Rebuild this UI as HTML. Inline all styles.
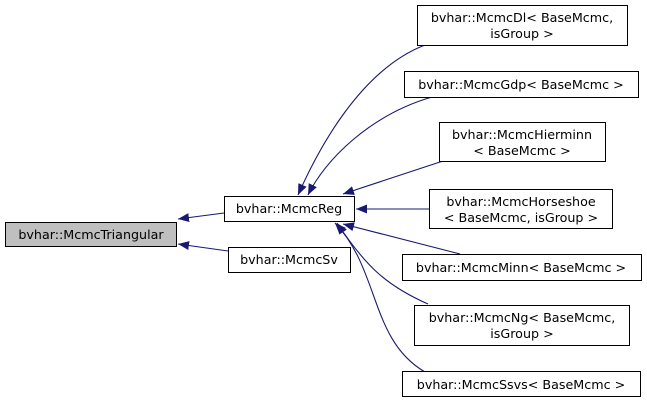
<!DOCTYPE html>
<html><head><style>body{margin:0;background:#fff}</style></head><body>
<svg width="647" height="403" xmlns="http://www.w3.org/2000/svg" font-family="DejaVu Sans, Liberation Sans, sans-serif" font-size="12.7">
<defs><marker id="a" markerWidth="11" markerHeight="9" refX="11" refY="4.5" orient="auto" markerUnits="userSpaceOnUse"><path d="M0,0 L11,4.5 L0,9 z" fill="#191970"/></marker></defs>
<g fill="none" stroke="#191970" stroke-width="1.1">
<path d="M224,213 L178,219" marker-end="url(#a)"/>
<path d="M228,251 L178,244" marker-end="url(#a)"/>
<path d="M425,45 C360,70 318,150 298,195" marker-end="url(#a)"/>
<path d="M432,97 C370,115 325,160 308,195" marker-end="url(#a)"/>
<path d="M443,161 L343,194" marker-end="url(#a)"/>
<path d="M429,209 L356,209" marker-end="url(#a)"/>
<path d="M460,254 L343,224" marker-end="url(#a)"/>
<path d="M428,304 C385,285 365,265 337,223" marker-end="url(#a)"/>
<path d="M425,372 C370,340 380,270 335,223" marker-end="url(#a)"/>
</g>
<g stroke="#000" stroke-width="1">
<rect x="5.5" y="222.5" width="171" height="24" fill="#bfbfbf"/>
<rect x="224.5" y="196.5" width="130" height="25" fill="#fff"/>
<rect x="228.5" y="247.5" width="122" height="25" fill="#fff"/>
<rect x="417.5" y="5.5" width="210" height="40" fill="#fff"/>
<rect x="404.5" y="71.5" width="234" height="26" fill="#fff"/>
<rect x="439.5" y="122.5" width="166" height="39" fill="#fff"/>
<rect x="429.5" y="189.5" width="183" height="39" fill="#fff"/>
<rect x="402.5" y="254.5" width="239" height="26" fill="#fff"/>
<rect x="414.5" y="305.5" width="215" height="40" fill="#fff"/>
<rect x="402.5" y="371.5" width="238" height="25" fill="#fff"/>
</g>
<g text-anchor="middle" fill="#000">
<text x="91" y="239">bvhar::McmcTriangular</text>
<text x="289" y="213">bvhar::McmcReg</text>
<text x="289" y="264">bvhar::McmcSv</text>
<text x="522" y="22">bvhar::McmcDl&lt; BaseMcmc,</text>
<text x="522" y="38">isGroup &gt;</text>
<text x="521" y="89">bvhar::McmcGdp&lt; BaseMcmc &gt;</text>
<text x="522" y="139">bvhar::McmcHierminn</text>
<text x="522" y="155">&lt; BaseMcmc &gt;</text>
<text x="521" y="206">bvhar::McmcHorseshoe</text>
<text x="521" y="222">&lt; BaseMcmc, isGroup &gt;</text>
<text x="521" y="272">bvhar::McmcMinn&lt; BaseMcmc &gt;</text>
<text x="522" y="322">bvhar::McmcNg&lt; BaseMcmc,</text>
<text x="522" y="338">isGroup &gt;</text>
<text x="521" y="389">bvhar::McmcSsvs&lt; BaseMcmc &gt;</text>
</g>
</svg>
</body></html>
